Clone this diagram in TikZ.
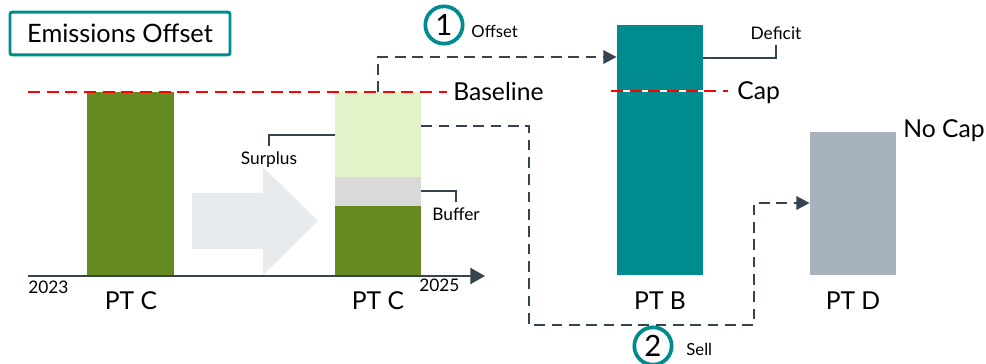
\documentclass[tikz,border=0pt]{standalone}
\usepackage{fontspec}
\setmainfont{Lato}
\usetikzlibrary{arrows.meta,positioning}
\definecolor{OffTeal}{HTML}{008B8F}
\definecolor{LeafGreen}{HTML}{658A1F}
\definecolor{PaleGreen}{HTML}{E3F3C9}
\definecolor{BufGray}{HTML}{D9D9D9}
\definecolor{CapGray}{HTML}{A6B2BE}
\definecolor{Slate}{HTML}{37434F}
\definecolor{ShiftGray}{HTML}{E8EBEE}

\begin{document}
\begin{tikzpicture}[x=0.75pt,y=-0.75pt,
bar/.style={rectangle,inner sep=0pt,outer sep=0pt,minimum width=65pt},
big/.style={font=\fontsize{18.5}{22}\selectfont,inner sep=0pt},
lbl/.style={font=\fontsize{13}{16}\selectfont,inner sep=4pt},
note/.style={font=\fontsize{12.5}{15}\selectfont,inner sep=0pt},
num/.style={circle,draw=OffTeal,line width=2.8pt,minimum size=28pt,inner sep=0pt,font=\fontsize{22}{22}\selectfont},
leader/.style={draw=Slate,line width=1.5pt},
flow/.style={-{Triangle[length=10pt,width=10pt]},draw=Slate,line width=2pt,dash pattern=on 8pt off 5pt},
limit/.style={draw=red,line width=2pt,dash pattern=on 9pt off 5pt}]
\useasboundingbox (0,0) rectangle (986,364);

% title
\node[draw=OffTeal,line width=2.2pt,rounded corners=1.5pt,minimum width=165pt,minimum height=32pt,
  font=\fontsize{19}{22}\selectfont] (title) at (120,33.5) {Emissions Offset};

% shift between the two years
\fill[ShiftGray] (192,193) -- (263,193) -- (263,167) -- (318,221) -- (263,275) -- (263,249) -- (192,249) -- cycle;

% bars
\node[bar,fill=LeafGreen,minimum height=138pt,anchor=south] (c1) at (130.5,276) {};
\node[bar,fill=LeafGreen,minimum height=52.5pt,anchor=south] (c2) at (378,276) {};
\node[bar,fill=BufGray,minimum height=21.75pt,above=0pt of c2] (buf) {};
\node[bar,fill=PaleGreen,minimum height=63.75pt,above=0pt of buf] (sur) {};
\node[bar,fill=OffTeal,minimum height=187.5pt,anchor=south] (pb) at (660,275) {};
\node[bar,fill=CapGray,minimum height=107.25pt,anchor=south] (pd) at (853,275) {};

% time axis
\coordinate (t0) at (28,276);
\coordinate (t1) at (485,276);
\draw[draw=Slate,line width=1.6pt,-{Triangle[length=11pt,width=12pt]}] (t0) -- (t1);
\node[lbl,inner sep=0pt,anchor=north west] (y1) at (28,281) {2023};
\node[lbl,inner sep=0pt,anchor=north west] (y2) at (419,279) {2025};

% bar names
\node[big,anchor=base] (n1) at (131,309) {PT C};
\node[big,anchor=base] (n2) at (378,309) {PT C};
\node[big,anchor=base] (n3) at (660,309) {PT B};
\node[big,anchor=base] (n4) at (853,309) {PT D};

% baseline and cap
\node[big,anchor=base west] (baselbl) at (453,100) {Baseline};
\coordinate (base0) at (28,92);
\coordinate (base1) at (447,92);
\draw[limit] (base0) -- (base1);
\node[big,anchor=base west] (caplbl) at (737,99) {Cap};
\coordinate (cap0) at (611,91);
\coordinate (cap1) at (728,91);
\draw[white,line width=2pt] (cap0) -- (cap1);
\draw[limit] (cap0) -- (cap1);
\node[big,anchor=base west] (nocap) at (903,137) {No Cap};

% leaders
\node[lbl,anchor=north] (surplus) at (269,146) {Surplus};
\node[lbl,anchor=north] (buffer) at (456,202) {Buffer};
\node[lbl,anchor=south] (deficit) at (776,45) {Deficit};
\draw[leader] ([yshift=-32.25pt]sur.north west) -| (surplus.north);
\draw[leader] ([yshift=-10.5pt]buf.north east) -| (buffer.north);
\draw[leader] ([yshift=-24.75pt]pb.north east) -| (deficit.south);

% offset and sell flows
\coordinate (offin) at ([yshift=-24pt]pb.north west);
\draw[flow] (sur.north) |- (offin);
\coordinate (sellout) at ([yshift=-25.5pt]sur.north east);
\coordinate (sellc) at (529,325);
\coordinate (sellu) at (754,325);
\coordinate (sellin) at ([yshift=-53.25pt]pd.north west);
\draw[flow] (sellout) -| (sellc) -- (sellu) |- (sellin);

\node[num] (one) at (444,25) {1};
\node[note,anchor=base west] (offsetlbl) at ([xshift=5pt,yshift=-9.4pt]one.east) {Offset};
\node[num] (two) at (653,346) {2};
\node[note,anchor=base west] (selllbl) at ([xshift=9.5pt,yshift=-6.75pt]two.east) {Sell};
\end{tikzpicture}
\end{document}
